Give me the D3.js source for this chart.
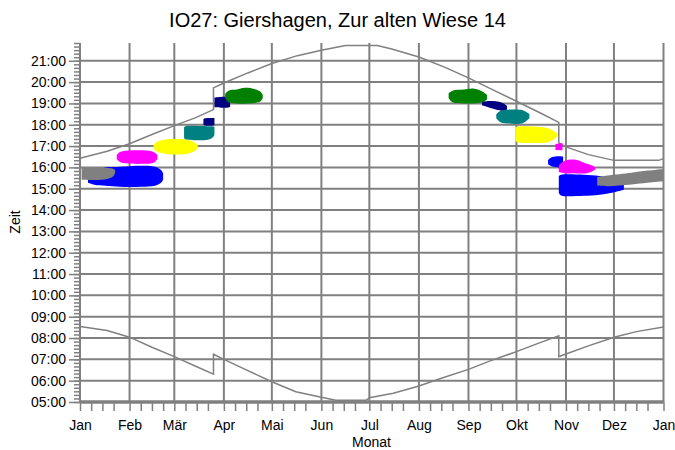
<!doctype html>
<html>
  <head>
    <meta charset="utf-8">
    <script src="https://cdnjs.cloudflare.com/ajax/libs/d3/7.8.5/d3.min.js"></script>
    <style>
        body { margin: 0; background: #fff; }
        svg { display: block; font-family: "Liberation Sans", Arial, sans-serif; }
    </style>
  </head>
  <body>
    <svg width="675" height="450"></svg>
    <script>
        var monthLabels = ["Jan", "Feb", "Mär", "Apr", "Mai", "Jun", "Jul", "Aug", "Sep", "Okt", "Nov", "Dez", "Jan"];
        var monthStarts = [0, 31, 59, 90, 120, 151, 181, 212, 243, 273, 304, 334, 365];
        var hourTicks = [5, 6, 7, 8, 9, 10, 11, 12, 13, 14, 15, 16, 17, 18, 19, 20, 21];

        // sun curves, day of year -> hours
        var sunsetDays  = [0, 17, 31, 45, 59, 72, 83.5, 83.5, 90, 105, 120, 136, 151, 166, 186, 195, 212, 228, 243, 258, 273, 288, 299.5, 299.5, 304, 318, 334, 362, 365];
        var sunsetTimes = [16.43, 16.76, 17.11, 17.54, 17.96, 18.32, 18.71, 19.73, 19.96, 20.43, 20.87, 21.24, 21.49, 21.72, 21.72, 21.55, 21.18, 20.7, 20.2, 19.65, 19.1, 18.55, 18.11, 17.15, 16.96, 16.6, 16.33, 16.33, 16.41];
        var sunriseDays  = [0, 17, 31, 45, 59, 72, 83.5, 83.5, 90, 105, 120, 135, 151, 160, 179, 181, 196, 212, 226, 243, 257, 273, 287, 299.5, 299.5, 304, 318, 334, 348, 365];
        var sunriseTimes = [8.54, 8.35, 8.04, 7.57, 7.13, 6.69, 6.31, 7.24, 7.0, 6.47, 5.95, 5.48, 5.22, 5.08, 5.08, 5.2, 5.41, 5.75, 6.11, 6.53, 6.94, 7.36, 7.76, 8.1, 7.13, 7.25, 7.63, 8.04, 8.3, 8.52];

        // blobs: [day, from hour, to hour]
        var blueJan = [[5, 15.28, 15.5], [9, 15.19, 15.8], [16, 15.14, 15.99], [25, 15.09, 16.03], [38, 15.09, 16.08], [47, 15.14, 16.03], [51, 15.3, 15.85], [52, 15.45, 15.7]];
        var grayJan = [[1, 15.42, 15.97], [14, 15.42, 15.97], [18, 15.48, 15.97], [21, 15.6, 15.93], [22, 15.75, 15.88]];
        var magentaFeb = [[23, 16.4, 16.58], [25, 16.25, 16.72], [30, 16.18, 16.79], [40, 16.17, 16.8], [46, 16.22, 16.72], [48.4, 16.4, 16.58]];
        var yellowMar = [[46, 16.9, 17.05], [48, 16.74, 17.2], [53, 16.64, 17.3], [60, 16.6, 17.33], [67, 16.64, 17.3], [72, 16.78, 17.16], [73.7, 16.92, 17.04]];
        var tealMar = [[65.1, 17.38, 17.88], [66, 17.32, 17.93], [80, 17.3, 17.93], [83, 17.4, 17.93], [84.1, 17.52, 17.9]];
        var navyMar = [[77.2, 18.0, 18.25], [78, 17.96, 18.3], [84.1, 17.96, 18.32]];
        var navyApr = [[84.1, 18.82, 19.28], [92, 18.8, 19.3], [93.9, 18.85, 19.15]];
        var greenApr = [[90.8, 19.25, 19.45], [93, 19.05, 19.6], [98, 19.0, 19.65], [103, 18.99, 19.73], [109, 19.02, 19.68], [113, 19.1, 19.55], [114.3, 19.25, 19.4]];
        var greenSep = [[230.6, 19.25, 19.48], [233, 19.05, 19.6], [240, 19.0, 19.65], [246, 19.0, 19.7], [252, 19.05, 19.55], [254.6, 19.2, 19.4]];
        var navySep = [[251.5, 18.92, 19.06], [254, 18.86, 19.1], [260, 18.72, 19.1], [265, 18.66, 19.0], [267.1, 18.72, 18.88]];
        var tealSep = [[260.4, 18.3, 18.5], [263, 18.12, 18.65], [270, 18.05, 18.71], [277, 18.07, 18.68], [281.1, 18.3, 18.5]];
        var yellowOct = [[272.3, 17.25, 17.88], [274, 17.17, 17.92], [284, 17.15, 17.92], [292, 17.17, 17.85], [296, 17.3, 17.72], [298.4, 17.45, 17.6]];
        var magentaOct = [[297.4, 16.82, 17.1], [301.8, 16.8, 17.15]];
        var blueOct = [[292.8, 16.15, 16.35], [295, 16.05, 16.48], [300, 16.0, 16.52], [302.2, 16.05, 16.5]];
        var blueNov = [[299.5, 14.8, 15.6], [301, 14.68, 15.66], [315, 14.67, 15.66], [325, 14.72, 15.6], [335, 14.85, 15.45], [340.2, 14.95, 15.3]];
        var magentaNov = [[299.5, 15.8, 16.1], [303, 15.73, 16.3], [310, 15.72, 16.36], [316, 15.72, 16.2], [320, 15.8, 16.1], [322.4, 15.9, 16.0]];
        var grayDec = [[323.5, 15.15, 15.55], [330, 15.12, 15.62], [345, 15.2, 15.75], [355, 15.28, 15.85], [365, 15.35, 15.93]];

        var svg = d3.select("svg");
        var gridColor = "#808080";

        var x = d3.scaleLinear().domain([0, 365]).range([80, 663.5]);
        var y = d3.scaleLinear().domain([5, 21 + 50 / 60]).range([402, 43]);

        // grid
        svg.append("g").selectAll("line")
            .data(hourTicks)
            .enter().append("line")
                .attr("x1", x(0)).attr("x2", x(365))
                .attr("y1", d => y(d)).attr("y2", d => y(d))
                .style("stroke", gridColor).style("stroke-width", 2);

        svg.append("g").selectAll("line")
            .data(monthStarts)
            .enter().append("line")
                .attr("x1", d => x(d)).attr("x2", d => x(d))
                .attr("y1", y.range()[1]).attr("y2", y(5))
                .style("stroke", gridColor).style("stroke-width", 2);

        // sunrise / sunset
        var sunLine = d3.line()
            .x(d => x(d[0]))
            .y(d => y(d[1]));

        [d3.zip(sunsetDays, sunsetTimes), d3.zip(sunriseDays, sunriseTimes)].forEach(function(pts){
            svg.append("path")
                .attr("d", sunLine(pts))
                .style("fill", "none")
                .style("stroke", gridColor)
                .style("stroke-width", 1.5);
        });

        // blobs
        var blobArea = d3.area()
            .curve(d3.curveCatmullRom)
            .x(d => x(d[0]))
            .y0(d => y(d[1]))
            .y1(d => y(d[2]));

        var blobs = [
            [blueJan, "#0000ff"], [grayJan, "#808080"], [magentaFeb, "#ff00ff"],
            [yellowMar, "#ffff00"], [tealMar, "#008080"], [navyMar, "#000080"],
            [navyApr, "#000080"], [greenApr, "#008000"],
            [greenSep, "#008000"], [navySep, "#000080"], [tealSep, "#008080"],
            [yellowOct, "#ffff00"], [magentaOct, "#ff00ff"], [blueOct, "#0000ff"],
            [blueNov, "#0000ff"], [magentaNov, "#ff00ff"], [grayDec, "#808080"]
        ];

        svg.append("g").selectAll("path")
            .data(blobs)
            .enter().append("path")
                .attr("d", d => blobArea(d[0]))
                .style("fill", d => d[1]);

        // x axis
        var weekTicks = [];
        monthStarts.slice(0, 12).forEach(m => { weekTicks.push(m + 7, m + 14, m + 21); });

        var xMinor = svg.append("g")
            .attr("transform", "translate(0,402)")
            .call(d3.axisBottom(x).tickValues(weekTicks).tickSize(9).tickFormat(""));

        var xMajor = svg.append("g")
            .attr("transform", "translate(0,402)")
            .call(d3.axisBottom(x).tickValues(monthStarts).tickSize(9).tickPadding(9)
                .tickFormat((d, i) => monthLabels[i]));

        // y axis
        var minorTimes = d3.range(5, 21.84, 1 / 6);
        var yMinor = svg.append("g")
            .attr("transform", "translate(80,0)")
            .call(d3.axisLeft(y).tickValues(minorTimes).tickSize(6).tickFormat(""));

        var yMajor = svg.append("g")
            .attr("transform", "translate(80,0)")
            .call(d3.axisLeft(y).tickValues(hourTicks).tickSize(11)
                .tickFormat(d => (d < 10 ? "0" : "") + d + ":00"));

        [xMinor, xMajor, yMinor, yMajor].forEach(function(g){
            g.select(".domain").remove();
            g.selectAll(".tick line").style("stroke", gridColor).style("stroke-width", 1.5);
            g.selectAll(".tick text")
                .style("font-family", "'Liberation Sans', Arial, sans-serif")
                .style("font-size", "14px")
                .style("fill", "#000");
        });

        svg.append("line")
            .attr("x1", x(0)).attr("x2", x(365))
            .attr("y1", 402).attr("y2", 402)
            .style("stroke", gridColor).style("stroke-width", 3.5);

        // titles
        svg.append("text")
            .attr("x", 337.5).attr("y", 27)
            .attr("text-anchor", "middle")
            .style("font-size", "20px")
            .text("IO27: Giershagen, Zur alten Wiese 14");

        svg.append("text")
            .attr("transform", "translate(20,222) rotate(-90)")
            .attr("text-anchor", "middle")
            .style("font-size", "14px")
            .text("Zeit");

        svg.append("text")
            .attr("x", 371.5).attr("y", 447)
            .attr("text-anchor", "middle")
            .style("font-size", "14px")
            .text("Monat");
    </script>
  </body>
</html>
